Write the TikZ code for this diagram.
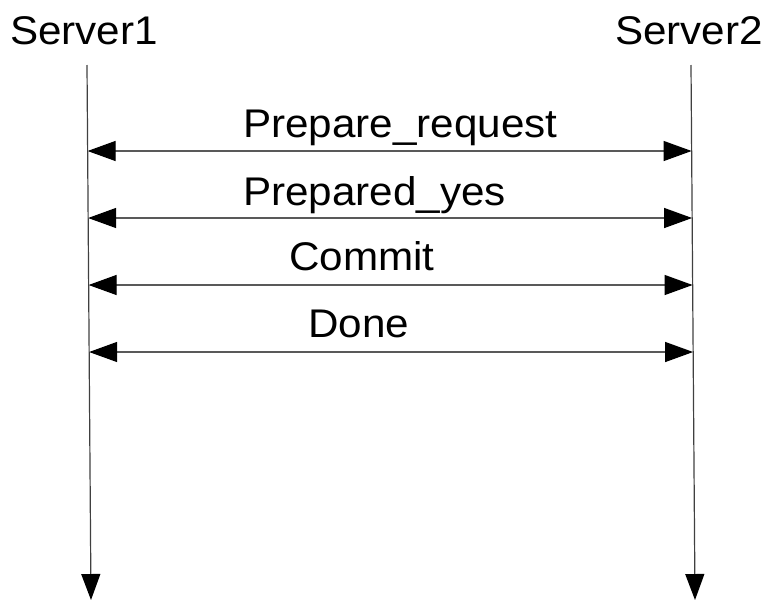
\documentclass[tikz,border=0pt]{standalone}
\usepackage{fontspec}
\setmainfont{Liberation Sans}[FakeStretch=1.055]
\usetikzlibrary{arrows.meta}
\begin{document}
\begin{tikzpicture}[x=1pt,y=-1pt,
  lbl/.style={anchor=base west,inner sep=0pt,font=\fontsize{40}{48}\selectfont},
  life/.style={line width=1.2pt,draw=black!75,-{Triangle[length=26pt,width=19pt,color=black]}},
  msg/.style={line width=1.2pt,draw=black!65,{Triangle[length=28pt,width=20pt,color=black]}-{Triangle[length=28pt,width=20pt,color=black]}}]
\useasboundingbox (0,0) rectangle (768,600);
\node[lbl] (s1) at (10,44) {Server1};
\node[lbl] (s2) at (615,44) {Server2};
\coordinate (a1) at (87,65);
\coordinate (a2) at (91,600);
\coordinate (b1) at (691,65);
\coordinate (b2) at (695,600);
\draw[life] (a1) -- (a2);
\draw[life] (b1) -- (b2);
\coordinate (l1) at (87.6,151); \coordinate (r1) at (691.6,151);
\coordinate (l2) at (88.1,218); \coordinate (r2) at (692.1,218);
\coordinate (l3) at (88.6,285); \coordinate (r3) at (692.6,285);
\coordinate (l4) at (89.1,352); \coordinate (r4) at (693.1,352);
\draw[msg] (l1) -- (r1);
\draw[msg] (l2) -- (r2);
\draw[msg] (l3) -- (r3);
\draw[msg] (l4) -- (r4);
\node[lbl] (m1) at (243,137) {Prepare\_request};
\node[lbl] (m2) at (243,205) {Prepared\_yes};
\node[lbl] (m3) at (289,270) {Commit};
\node[lbl] (m4) at (308,337) {Done};
\end{tikzpicture}
\end{document}
